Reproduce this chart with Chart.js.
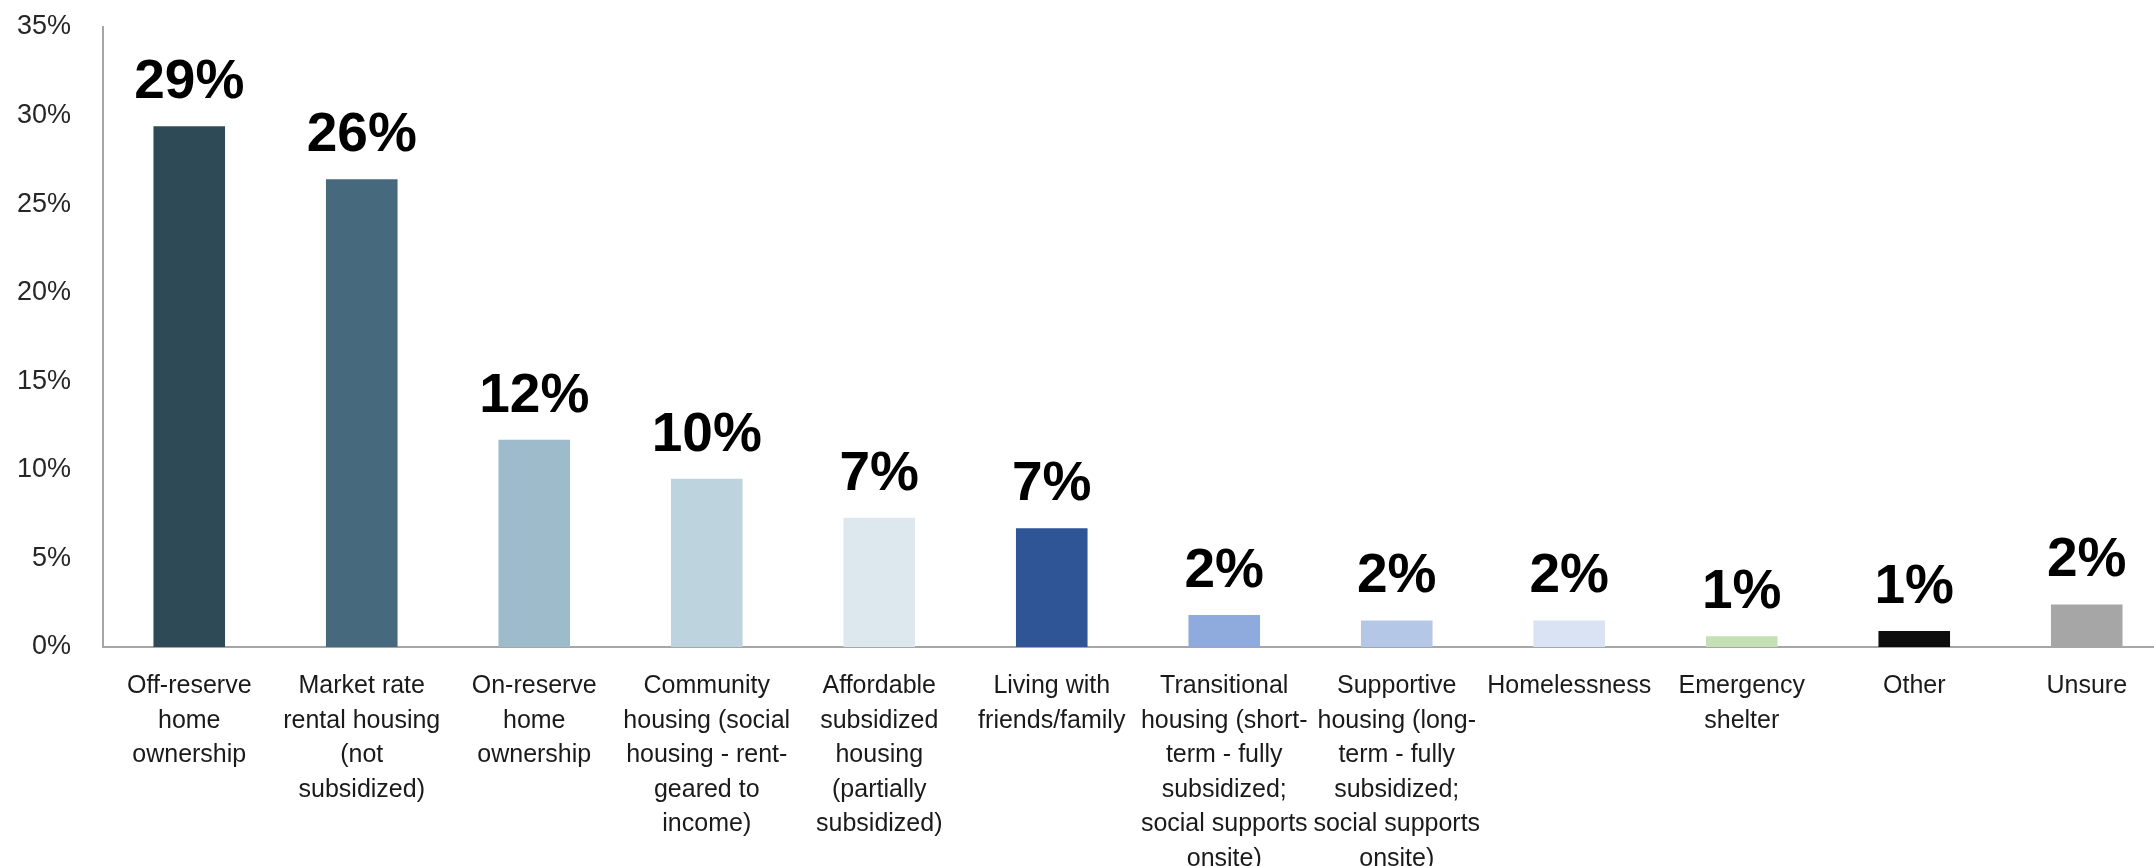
<!DOCTYPE html>
<html>
<head>
<meta charset="utf-8">
<script src="https://cdn.jsdelivr.net/npm/chart.js@4.4.1/dist/chart.umd.min.js"></script>
<style>
    html, body { margin: 0; padding: 0; background: #ffffff; overflow: hidden; }
    #wrap { width: 2180px; height: 866px; }
</style>
</head>
<body>
<div id="wrap"><canvas id="barChart"></canvas></div>
<script>
const categories = [
    ['Off-reserve', 'home', 'ownership'],
    ['Market rate', 'rental housing', '(not', 'subsidized)'],
    ['On-reserve', 'home', 'ownership'],
    ['Community', 'housing (social', 'housing - rent-', 'geared to', 'income)'],
    ['Affordable', 'subsidized', 'housing', '(partially', 'subsidized)'],
    ['Living with', 'friends/family'],
    ['Transitional', 'housing (short-', 'term - fully', 'subsidized;', 'social supports', 'onsite)'],
    ['Supportive', 'housing (long-', 'term - fully', 'subsidized;', 'social supports', 'onsite)'],
    ['Homelessness'],
    ['Emergency', 'shelter'],
    ['Other'],
    ['Unsure']
];
const values = [29.4, 26.4, 11.7, 9.5, 7.3, 6.7, 1.8, 1.5, 1.5, 0.6, 0.9, 2.4];
const valueLabels = ['29%', '26%', '12%', '10%', '7%', '7%', '2%', '2%', '2%', '1%', '1%', '2%'];
const barColors = ['#2E4A56', '#46697D', '#9DBBCB', '#BDD3DE', '#DCE8EE', '#2F5597',
                   '#8FAADC', '#B4C7E7', '#DAE3F3', '#C5E0B4', '#0D0D0D', '#A6A6A6'];
const yTicks = [0, 5, 10, 15, 20, 25, 30, 35];

// draws the big bold labels above each bar (no datalabels plugin available offline)
const valueLabelPlugin = {
    id: 'valueLabels',
    afterDatasetsDraw(chart) {
        const ctx = chart.ctx;
        const meta = chart.getDatasetMeta(0);
        ctx.save();
        ctx.font = 'bold 55px "Liberation Sans", Arial, sans-serif';
        ctx.fillStyle = '#000000';
        ctx.textAlign = 'center';
        ctx.textBaseline = 'alphabetic';
        meta.data.forEach((bar, i) => {
            ctx.fillText(valueLabels[i], bar.x, bar.y - 28);
        });
        ctx.restore();
    }
};

document.addEventListener('DOMContentLoaded', function() {
    const barChart = new Chart(document.getElementById('barChart'), {
        type: 'bar',
        data: {
            labels: categories,
            datasets: [{
                label: 'Share',
                data: values,
                backgroundColor: barColors,
                barPercentage: 0.83,
                categoryPercentage: 0.5
            }]
        },
        options: {
            responsive: true,
            maintainAspectRatio: false,
            animation: false,
            layout: { padding: { top: 27, right: 7, left: 0, bottom: 0 } },
            plugins: {
                legend: { display: false },
                tooltip: { enabled: false }
            },
            scales: {
                x: {
                    grid: { display: false, drawTicks: false },
                    border: { display: true, color: '#A6A6A6', width: 2 },
                    ticks: {
                        autoSkip: false,
                        maxRotation: 0,
                        minRotation: 0,
                        padding: 22,
                        color: '#1a1a1a',
                        font: { family: '"Liberation Sans", Arial, sans-serif', size: 25, lineHeight: 1.38 }
                    },
                    afterFit: function(scale) { scale.height = 219; }
                },
                y: {
                    min: 0,
                    max: 35,
                    afterBuildTicks: function(scale) {
                        scale.ticks = yTicks.map(v => ({ value: v }));
                    },
                    grid: { display: false, drawTicks: false },
                    border: { display: true, color: '#A6A6A6', width: 2 },
                    ticks: {
                        padding: 32,
                        color: '#262626',
                        font: { family: '"Liberation Sans", Arial, sans-serif', size: 27 },
                        callback: v => v + '%'
                    },
                    afterFit: function(scale) {
                        scale.width = 103;
                        // tick padding is horizontal here, don't let it push the plot down
                        scale.paddingTop = 10;
                        scale.paddingBottom = 10;
                    }
                }
            }
        },
        plugins: [valueLabelPlugin]
    });
});
</script>
</body>
</html>
